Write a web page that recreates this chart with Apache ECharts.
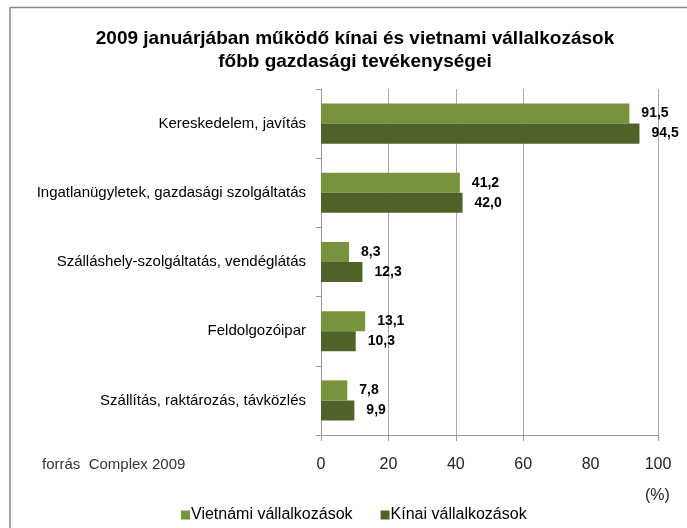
<!DOCTYPE html>
<html>
<head>
<meta charset="utf-8">
<script src="https://cdn.jsdelivr.net/npm/echarts@6/dist/echarts.min.js"></script>
<style>html,body{margin:0;padding:0;background:#fff;}#c{width:687px;height:528px;}</style>
</head>
<body>
<div id="c"></div>
<script>
const categories = [
  'Kereskedelem, javítás',
  'Ingatlanügyletek, gazdasági szolgáltatás',
  'Szálláshely-szolgáltatás, vendéglátás',
  'Feldolgozóipar',
  'Szállítás, raktározás, távközlés'
];
const vietnamiValues = [91.5, 41.2, 8.3, 13.1, 7.8];
const kinaiValues = [94.5, 42.0, 12.3, 10.3, 9.9];
const xTickLabels = [0, 20, 40, 60, 80, 100];
const xGridValues = [0, 20, 40, 60, 100];
const seriesNames = ['Vietnámi vállalkozások', 'Kínai vállalkozások'];

const FF = 'Liberation Sans, Arial, sans-serif';
const chart = echarts.init(document.getElementById('c'));
const fmt = p => p.value.toFixed(1).replace('.', ',');
const labelStyle = {
  show: true, position: 'right', distance: 12, formatter: fmt,
  color: '#000', fontSize: 14, fontWeight: 'bold', fontFamily: FF
};
chart.setOption({
  animation: false,
  backgroundColor: '#fff',
  title: {
    text: '2009 januárjában működő kínai és vietnami vállalkozások\nfőbb gazdasági tevékenységei',
    left: 350, top: 22, textAlign: 'center',
    textStyle: { fontSize: 19, fontWeight: 'bold', color: '#000', lineHeight: 23, fontFamily: FF }
  },
  legend: {
    data: seriesNames, left: 176, top: 502, itemWidth: 9, itemHeight: 9, itemGap: 28,
    icon: 'rect',
    textStyle: { fontSize: 16, color: '#000', padding: [0, 0, 0, -4], fontFamily: FF }
  },
  grid: { left: 321, right: 29, top: 89, bottom: 93, containLabel: false },
  xAxis: {
    type: 'value', min: 0, max: 100, interval: 20,
    axisLine: { show: true, lineStyle: { color: '#999', width: 1 } },
    axisTick: { show: true, length: 6, customValues: xGridValues, lineStyle: { color: '#999' } },
    splitLine: { show: true, lineStyle: { color: '#aaa', width: 1 } },
    axisLabel: { customValues: xTickLabels, margin: 22, fontSize: 16, color: '#222', fontFamily: FF }
  },
  yAxis: {
    type: 'category', data: categories, inverse: true,
    axisLine: { show: true, lineStyle: { color: '#999', width: 1 } },
    axisTick: { show: true, length: 5, lineStyle: { color: '#999' } },
    axisLabel: { margin: 15, fontSize: 15, color: '#000', fontFamily: FF }
  },
  series: [
    { name: seriesNames[0], type: 'bar', data: vietnamiValues, barGap: '0%', barCategoryGap: '42%',
      itemStyle: { color: '#77933C' }, label: labelStyle },
    { name: seriesNames[1], type: 'bar', data: kinaiValues, barGap: '0%', barCategoryGap: '42%',
      itemStyle: { color: '#4F6228' }, label: labelStyle }
  ],
  graphic: [
    { type: 'line', shape: { x1: 10, y1: 7.5, x2: 687, y2: 7.5 }, style: { stroke: '#888', lineWidth: 1.5 } },
    { type: 'line', shape: { x1: 10, y1: 7, x2: 10, y2: 528 }, style: { stroke: '#888', lineWidth: 1.5 } },
    { type: 'text', left: 42, top: 457, style: { text: 'forrás  Complex 2009', fontSize: 15, fill: '#333', fontFamily: FF } },
    { type: 'text', left: 645, top: 488, style: { text: '(%)', fontSize: 16, fill: '#222', fontFamily: FF } }
  ]
});
</script>
</body>
</html>
